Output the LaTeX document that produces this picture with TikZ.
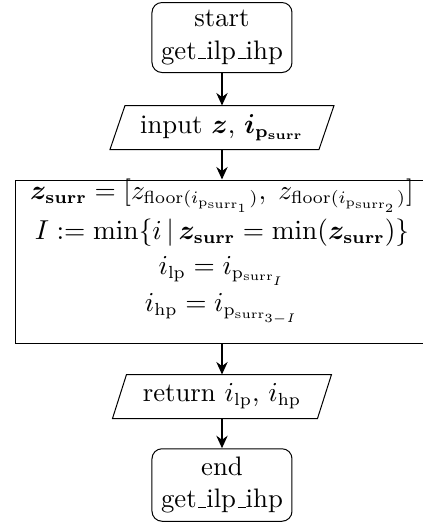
\documentclass[tikz,border=0pt]{standalone}
\usepackage{amsmath}
\usepackage{bm}
\usetikzlibrary{arrows.meta}
\newcommand\usc{\leavevmode\kern.06em\vbox{\hrule width.3em}}
\tikzset{
  every node/.style={font=\fontsize{10.7}{13}\selectfont},
  termbox/.style={draw, rounded corners=4pt, align=center, minimum width=56pt, minimum height=28pt, inner sep=0pt},
  iobox/.style={align=center, minimum height=17.2pt, inner sep=0pt},
  procbox/.style={draw, minimum width=164.8pt, minimum height=65.2pt, inner sep=0pt},
  proctext/.style={align=center, inner sep=0pt},
  flow/.style={thick, -{Stealth[length=5pt,width=4.5pt]}}
}
\begin{document}
\begin{tikzpicture}[x=0.4pt,y=-0.4pt]
\path[use as bounding box] (0,0) rectangle (423,523);
\clip (0,0) rectangle (423,523);
\node[termbox] (start) at (222,37.5) {start\\get\usc ilp\usc ihp};
\node[iobox, minimum width=83.2pt] (in) at (222,127.5) {input $\bm{z}$, $\bm{i}_{\mathbf{p}_{\mathbf{surr}}}$};
\draw ([xshift=3pt]in.north west) -- ([xshift=3pt]in.north east) -- ([xshift=-3pt]in.south east) -- ([xshift=-3pt]in.south west) -- cycle;
\node[procbox] (proc) at (222,261.5) {};
\node[proctext] (proctxt) at (222,252) {%
$\bm{z}_{\mathbf{surr}} = [z_{\mathrm{floor}(i_{\mathrm{p}_{\mathrm{surr}_1}})},\; z_{\mathrm{floor}(i_{\mathrm{p}_{\mathrm{surr}_2}})}]$\\[1.5pt]
$I := \min\{i \,|\, \bm{z}_{\mathbf{surr}} = \min(\bm{z}_{\mathbf{surr}})\}$\\[1pt]
$i_{\mathrm{lp}} = i_{\mathrm{p}_{\mathrm{surr}_I}}$\\[2pt]
$i_{\mathrm{hp}} = i_{\mathrm{p}_{\mathrm{surr}_{3-I}}}$};
\node[iobox, minimum width=81.6pt] (ret) at (222,396.5) {return $i_{\mathrm{lp}}$, $i_{\mathrm{hp}}$};
\draw ([xshift=2.8pt]ret.north west) -- ([xshift=2.8pt]ret.north east) -- ([xshift=-2.8pt]ret.south east) -- ([xshift=-2.8pt]ret.south west) -- cycle;
\node[termbox, minimum height=29pt] (end) at (222,485) {end\\get\usc ilp\usc ihp};
\draw[flow] (start) -- (in);
\draw[flow] (in) -- (proc);
\draw[flow] (proc) -- (ret);
\draw[flow] (ret) -- (end);
\end{tikzpicture}
\end{document}
